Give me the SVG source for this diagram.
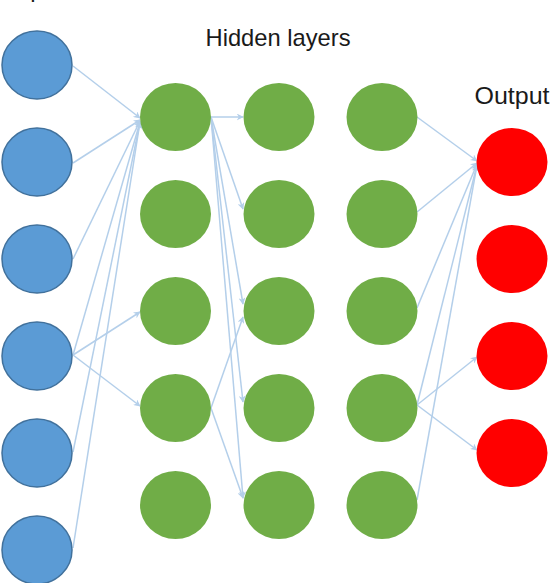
<svg xmlns="http://www.w3.org/2000/svg" width="556" height="583" viewBox="0 0 556 583">
<defs>
<marker id="ah" viewBox="0 0 10 10" refX="9" refY="5" markerWidth="7" markerHeight="7" markerUnits="userSpaceOnUse" orient="auto">
<path d="M0,0 L10,5 L0,10 L3,5 z" fill="#b4cfea"/>
</marker>
<style>
.in{fill:#5b9bd5;stroke:#41719c;stroke-width:1.5}
.hid{fill:#70ad47}
.out{fill:#ff0000}
.e{stroke:#b4cfea;stroke-width:1.5;fill:none;marker-end:url(#ah)}
.t{font-family:"Liberation Sans",Arial,sans-serif;font-size:24px;fill:#1a1a1a}
</style>
</defs>
<rect width="556" height="583" fill="#ffffff"/>
<g id="connectors">
<line class="e" x1="73" y1="66" x2="140" y2="118"/>
<line class="e" x1="73" y1="163" x2="140" y2="120"/>
<line class="e" x1="73" y1="259" x2="140" y2="121"/>
<line class="e" x1="73" y1="355" x2="140" y2="122"/>
<line class="e" x1="73" y1="355" x2="140" y2="312"/>
<line class="e" x1="73" y1="355" x2="140" y2="406"/>
<line class="e" x1="73" y1="452" x2="140" y2="122"/>
<line class="e" x1="73" y1="548" x2="140" y2="122"/>
<line class="e" x1="211" y1="117" x2="243" y2="117"/>
<line class="e" x1="211" y1="117" x2="243" y2="209"/>
<line class="e" x1="211" y1="117" x2="243" y2="304"/>
<line class="e" x1="211" y1="117" x2="243" y2="402"/>
<line class="e" x1="211" y1="117" x2="243" y2="498"/>
<line class="e" x1="211" y1="408" x2="243" y2="317"/>
<line class="e" x1="211" y1="408" x2="243" y2="498"/>
<line class="e" x1="417" y1="117" x2="477" y2="161"/>
<line class="e" x1="417" y1="212" x2="477" y2="163"/>
<line class="e" x1="417" y1="308" x2="477" y2="164"/>
<line class="e" x1="417" y1="405" x2="477" y2="165"/>
<line class="e" x1="417" y1="500" x2="477" y2="165"/>
<line class="e" x1="417" y1="405" x2="477" y2="357"/>
<line class="e" x1="417" y1="405" x2="477" y2="450"/>
</g>
<g id="input-label"><text class="t" x="37" y="-3" text-anchor="middle">Input</text></g>
<g id="hidden-label"><text class="t" x="278" y="46" text-anchor="middle" textLength="145" lengthAdjust="spacingAndGlyphs">Hidden layers</text></g>
<g id="output-label"><text class="t" x="512" y="104" text-anchor="middle" textLength="75" lengthAdjust="spacingAndGlyphs">Output</text></g>
<g id="in1"><ellipse class="in" cx="37" cy="65" rx="35" ry="34"/></g>
<g id="in2"><ellipse class="in" cx="37" cy="162" rx="35" ry="34"/></g>
<g id="in3"><ellipse class="in" cx="37" cy="259" rx="35" ry="34"/></g>
<g id="in4"><ellipse class="in" cx="37" cy="356" rx="35" ry="34"/></g>
<g id="in5"><ellipse class="in" cx="37" cy="453" rx="35" ry="34"/></g>
<g id="in6"><ellipse class="in" cx="37" cy="550" rx="35" ry="34"/></g>
<g id="h1_1"><ellipse class="hid" cx="175.5" cy="117" rx="35.5" ry="34"/></g>
<g id="h1_2"><ellipse class="hid" cx="175.5" cy="214" rx="35.5" ry="34"/></g>
<g id="h1_3"><ellipse class="hid" cx="175.5" cy="311" rx="35.5" ry="34"/></g>
<g id="h1_4"><ellipse class="hid" cx="175.5" cy="408" rx="35.5" ry="34"/></g>
<g id="h1_5"><ellipse class="hid" cx="175.5" cy="505" rx="35.5" ry="34"/></g>
<g id="h2_1"><ellipse class="hid" cx="279" cy="117" rx="35.5" ry="34"/></g>
<g id="h2_2"><ellipse class="hid" cx="279" cy="214" rx="35.5" ry="34"/></g>
<g id="h2_3"><ellipse class="hid" cx="279" cy="311" rx="35.5" ry="34"/></g>
<g id="h2_4"><ellipse class="hid" cx="279" cy="408" rx="35.5" ry="34"/></g>
<g id="h2_5"><ellipse class="hid" cx="279" cy="505" rx="35.5" ry="34"/></g>
<g id="h3_1"><ellipse class="hid" cx="382" cy="117" rx="35.5" ry="34"/></g>
<g id="h3_2"><ellipse class="hid" cx="382" cy="214" rx="35.5" ry="34"/></g>
<g id="h3_3"><ellipse class="hid" cx="382" cy="311" rx="35.5" ry="34"/></g>
<g id="h3_4"><ellipse class="hid" cx="382" cy="408" rx="35.5" ry="34"/></g>
<g id="h3_5"><ellipse class="hid" cx="382" cy="505" rx="35.5" ry="34"/></g>
<g id="o1"><ellipse class="out" cx="512" cy="162" rx="35.5" ry="34"/></g>
<g id="o2"><ellipse class="out" cx="512" cy="259" rx="35.5" ry="34"/></g>
<g id="o3"><ellipse class="out" cx="512" cy="356" rx="35.5" ry="34"/></g>
<g id="o4"><ellipse class="out" cx="512" cy="453" rx="35.5" ry="34"/></g>
</svg>
